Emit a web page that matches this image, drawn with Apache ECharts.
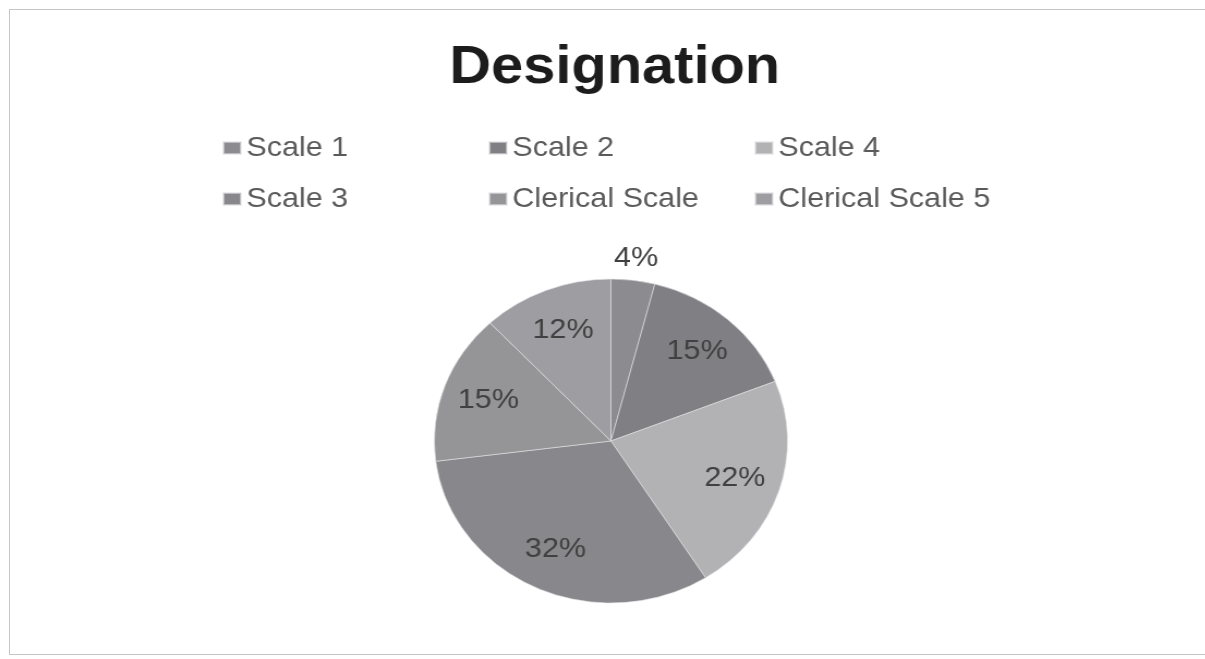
<!DOCTYPE html>
<html>
<head>
<meta charset="utf-8">
<title>Designation</title>
<script src="https://cdn.jsdelivr.net/npm/echarts@6/dist/echarts.min.js"></script>
<style>
  html, body { margin: 0; padding: 0; background: #ffffff; overflow: hidden; }
  #frame {
    position: absolute; left: 9px; top: 9px; width: 1300px; height: 646px;
    border: 1px solid #c6c6c6; box-sizing: border-box;
  }
  #chart {
    position: absolute; left: 0; top: 0; width: 1105px; height: 659px;
    transform: scaleX(1.09); transform-origin: 0 0;
  }
</style>
</head>
<body>
<div id="frame"></div>
<div id="chart"></div>
<script>
// Share of staff by designation (percent)
const categories = ['Scale 1', 'Scale 2', 'Scale 4', 'Scale 3', 'Clerical Scale', 'Clerical Scale 5'];
const shares = [4, 15, 22, 32, 15, 12];
const sliceColors = ['#8c8c90', '#7f7f84', '#b2b2b5', '#88888c', '#959598', '#9e9ea2'];

// legend laid out in three columns of two rows
const legendColumns = [[0, 3], [1, 4], [2, 5]];
const legendLeft = [199, 443, 687];

const FONT = '"Liberation Sans", Arial, sans-serif';
const CX = 560.5, CY = 441, R = 162;

const chart = echarts.init(document.getElementById('chart'), null, { renderer: 'canvas' });

const mainData = categories.map((name, i) => ({
  name: name,
  value: shares[i],
  itemStyle: { color: sliceColors[i] }
}));

// labels for the larger slices sit inside, about 70% out from the centre
const innerLabelData = categories.map((name, i) => ({
  name: name,
  value: shares[i],
  label: { show: i !== 0 }
}));

// the thin first slice carries its label just outside the rim
const outerLabelData = categories.map((name, i) => ({
  name: name,
  value: shares[i],
  label: { show: i === 0 }
}));

const labelStyle = {
  position: 'inside',
  formatter: '{c}%',
  fontFamily: FONT,
  fontSize: 28,
  color: '#404040'
};

const option = {
  animation: false,
  title: {
    text: 'Designation',
    left: 559,
    top: 37,
    textAlign: 'center',
    textStyle: { fontFamily: FONT, fontSize: 53, fontWeight: 'bold', color: '#1c1c1c' }
  },
  legend: legendColumns.map((col, c) => ({
    orient: 'vertical',
    left: legendLeft[c],
    top: 128,
    itemWidth: 16,
    itemHeight: 12,
    itemGap: 21,
    icon: 'rect',
    selectedMode: false,
    data: col.map(i => categories[i]),
    textStyle: { fontFamily: FONT, fontSize: 28, lineHeight: 30, color: '#5a5a5a' }
  })),
  series: [
    {
      type: 'pie',
      center: [CX, CY],
      radius: [0, R],
      startAngle: 90,
      clockwise: true,
      avoidLabelOverlap: false,
      silent: true,
      emphasis: { disabled: true },
      label: { show: false },
      labelLine: { show: false },
      itemStyle: { borderColor: 'rgba(225,225,228,0.6)', borderWidth: 1 },
      data: mainData
    },
    {
      type: 'pie',
      center: [CX, CY],
      radius: [Math.round(R * 0.44), R],
      startAngle: 90,
      clockwise: true,
      avoidLabelOverlap: false,
      silent: true,
      emphasis: { disabled: true },
      itemStyle: { color: 'rgba(0,0,0,0)', borderWidth: 0 },
      label: labelStyle,
      labelLine: { show: false },
      data: innerLabelData
    },
    {
      type: 'pie',
      center: [CX, CY],
      radius: [R, R + 38],
      startAngle: 90,
      clockwise: true,
      avoidLabelOverlap: false,
      silent: true,
      emphasis: { disabled: true },
      itemStyle: { color: 'rgba(0,0,0,0)', borderWidth: 0 },
      label: labelStyle,
      labelLine: { show: false },
      data: outerLabelData
    }
  ]
};

chart.setOption(option);
</script>
</body>
</html>
